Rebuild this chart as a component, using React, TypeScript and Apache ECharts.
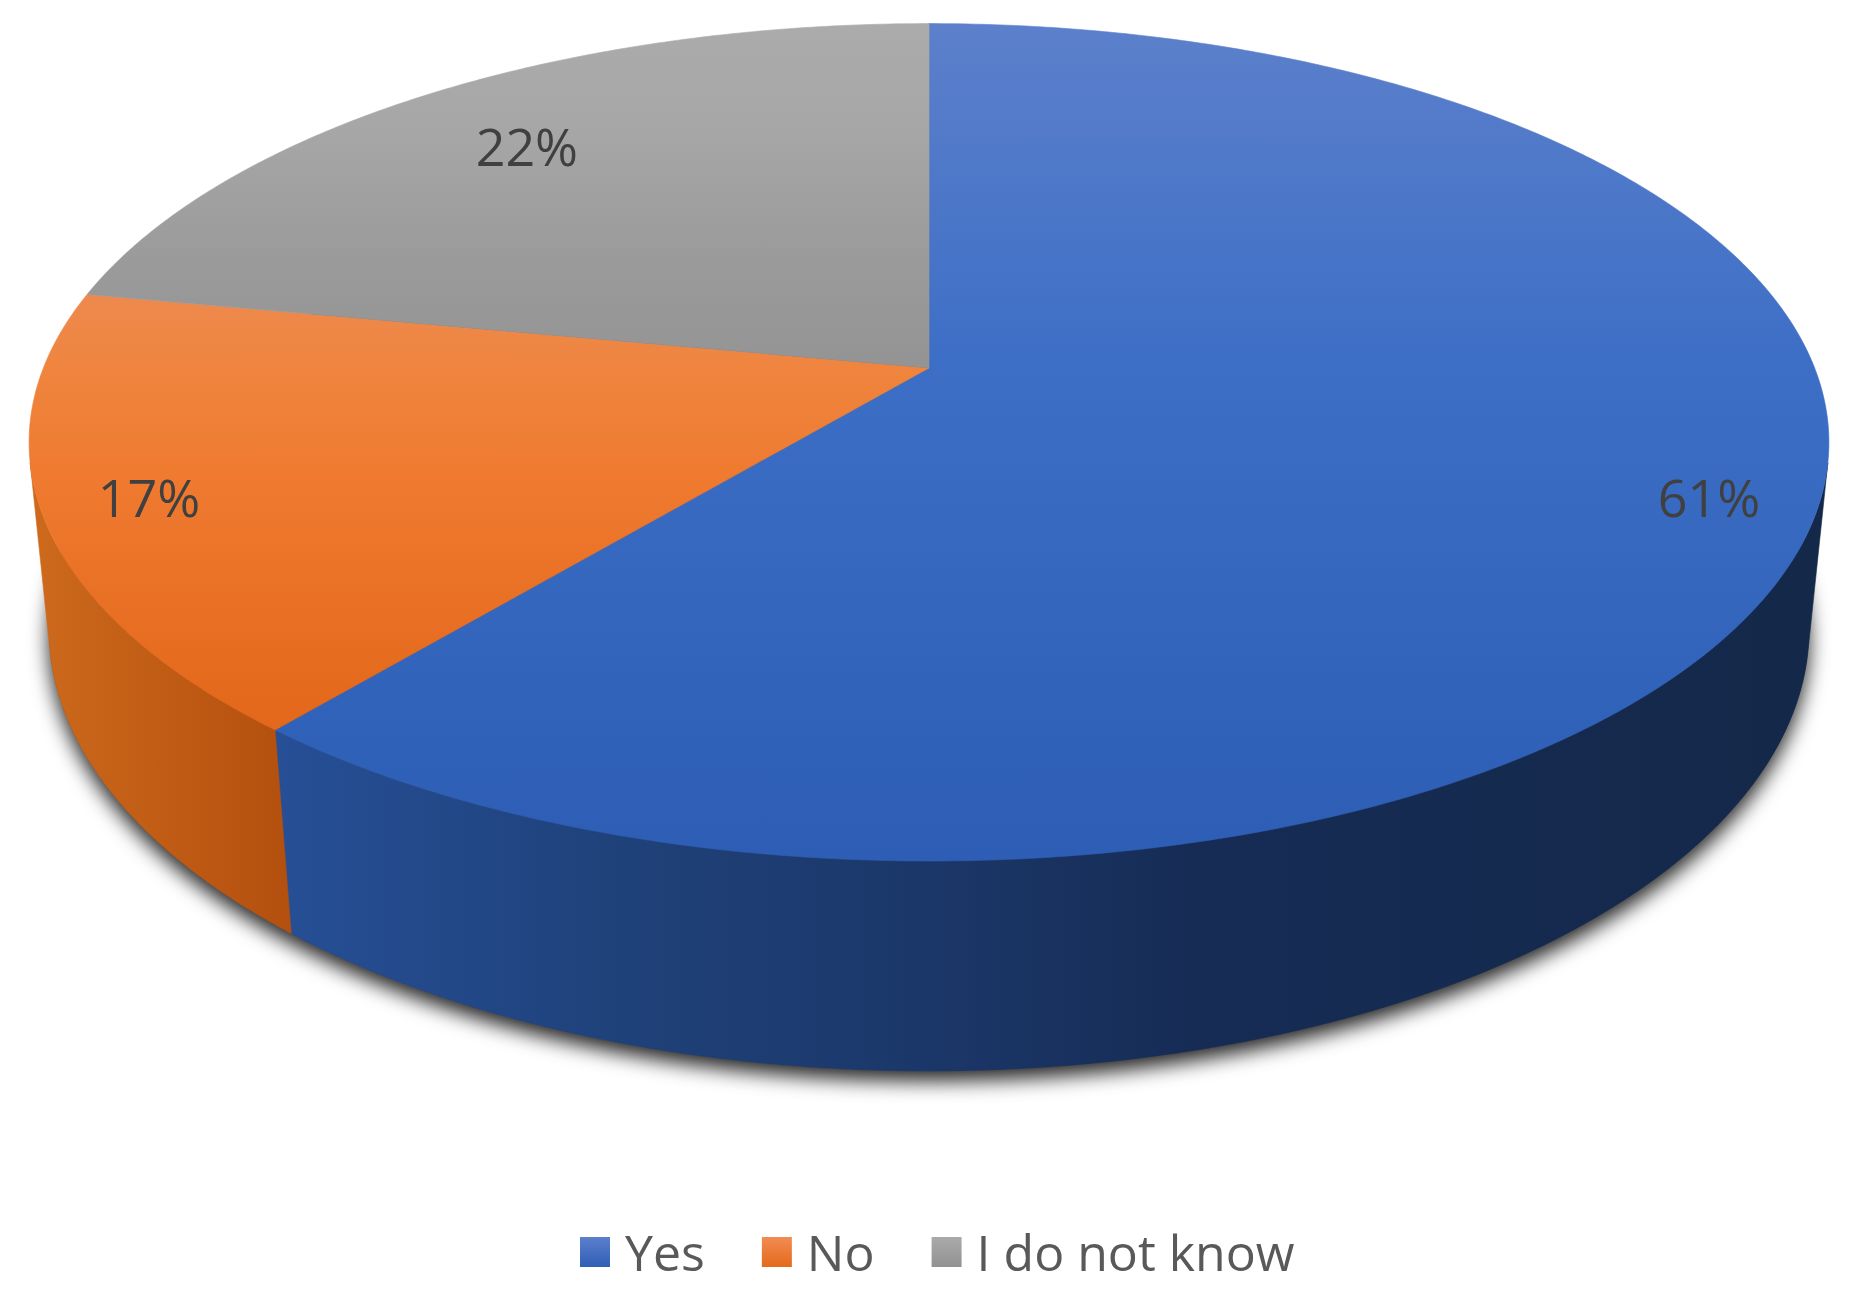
import React, { useEffect, useRef } from 'react';
import * as echarts from 'echarts';

const categories: string[] = ['Yes', 'No', 'I do not know'];
const values: number[] = [61, 17, 22];

// ---- styling (kept apart from the data) ----
const topStops = [
  [
    { offset: 0, color: '#5c80cb' },
    { offset: 0.39, color: '#3e6fc6' },
    { offset: 0.7, color: '#3466be' },
    { offset: 1, color: '#2d5db4' },
  ],
  [
    { offset: 0.3, color: '#ed8b52' },
    { offset: 0.42, color: '#ef843d' },
    { offset: 0.54, color: '#ef7a30' },
    { offset: 0.81, color: '#e4691c' },
    { offset: 1, color: '#e0641a' },
  ],
  [
    { offset: 0, color: '#ababab' },
    { offset: 0.12, color: '#a7a7a7' },
    { offset: 0.29, color: '#9a9a9a' },
    { offset: 0.41, color: '#949494' },
  ],
];
const sideStops = [
  [
    { offset: 0, color: '#264f96' },
    { offset: 0.23, color: '#1f4179' },
    { offset: 0.42, color: '#1b3769' },
    { offset: 0.59, color: '#162c55' },
    { offset: 1, color: '#142849' },
  ],
  [
    { offset: 0, color: '#ce6a1c' },
    { offset: 0.5, color: '#c05c14' },
    { offset: 1, color: '#b4500f' },
  ],
  [
    { offset: 0, color: '#8a8a8a' },
    { offset: 1, color: '#6a6a6a' },
  ],
];
const legendStops = [
  ['#5b80cc', '#2f5eb6'],
  ['#f28c52', '#e4691c'],
  ['#aaaaaa', '#929292'],
];

// ---- 3D perspective view ----
const VIEW = { cx: 929, cy: 368, F: 4437, d: 5.01, s: 0.4579, c: 0.889, H: 0.2388 };
const LABEL_INSET = 108;
const TOP_Y0 = 24;
const TOP_Y1 = 861;

function proj(X: number, Y: number, Z: number): number[] {
  const { cx, cy, F, d, s, c } = VIEW;
  const depth = d - Y * s - Z * c;
  return [cx + (F * X) / depth, cy + (F * (Z * s - Y * c)) / depth];
}
function rim(thetaDeg: number, r: number, Y: number): number[] {
  const t = (thetaDeg * Math.PI) / 180;
  return proj(r * Math.sin(t), Y, -r * Math.cos(t));
}
function arc(a: number, b: number, Y: number): number[][] {
  const n = Math.max(2, Math.ceil(Math.abs(b - a) / 0.5));
  const pts: number[][] = [];
  for (let k = 0; k <= n; k++) pts.push(rim(a + ((b - a) * k) / n, 1, Y));
  return pts;
}

const total = values.reduce((a, b) => a + b, 0);
const starts: number[] = [];
{
  let acc = 0;
  values.forEach((v) => {
    starts.push((acc / total) * 360);
    acc += v;
  });
}
const visA = (Math.acos(-1 / (VIEW.d * VIEW.c)) * 180) / Math.PI;
const visB = 360 - visA;

function makeRender(i: number) {
  return function (_params: any, api: any) {
    const v = api.value(0);
    const start = starts[i];
    const end = start + (v / total) * 360;
    const children: any[] = [];
    const va = Math.max(start, visA);
    const vb = Math.min(end, visB);
    if (va < vb) {
      const pts = arc(va, vb, 0).concat(arc(vb, va, -VIEW.H));
      children.push({
        type: 'polygon',
        z2: 1,
        shape: { points: pts },
        style: {
          fill: new echarts.graphic.LinearGradient(0, 0, 1, 0, sideStops[i]),
          stroke: new echarts.graphic.LinearGradient(0, 0, 1, 0, sideStops[i]),
          lineWidth: 0.6,
        },
      });
    }
    const center = proj(0, 0, 0);
    const topPts = [center].concat(arc(start, end, 0));
    children.push({
      type: 'polygon',
      z2: 10,
      shape: { points: topPts },
      style: {
        fill: new echarts.graphic.LinearGradient(0, TOP_Y0, 0, TOP_Y1, topStops[i], true),
        stroke: new echarts.graphic.LinearGradient(0, TOP_Y0, 0, TOP_Y1, topStops[i], true),
        lineWidth: 0.6,
      },
    });
    const mid = (start + end) / 2;
    const edge = rim(mid, 1, 0);
    const dx = center[0] - edge[0];
    const dy = center[1] - edge[1];
    const len = Math.sqrt(dx * dx + dy * dy);
    const lx = edge[0] + (dx / len) * LABEL_INSET;
    const ly = edge[1] + (dy / len) * LABEL_INSET;
    children.push({
      type: 'text',
      z2: 20,
      x: lx,
      y: ly,
      style: {
        text: Math.round((v / total) * 100) + '%',
        fill: '#404040',
        fontSize: 52,
        fontFamily: 'Open Sans',
        align: 'center',
        verticalAlign: 'middle',
      },
    });
    return { type: 'group', children };
  };
}

export default function App() {
  const ref = useRef<HTMLDivElement>(null);
  useEffect(() => {
    document.body.style.margin = '0';
    if (!ref.current) return;
    const chart = echarts.init(ref.current, undefined, { renderer: 'svg' });
    const series: any[] = [
      {
        type: 'custom',
        coordinateSystem: 'none',
        silent: true,
        z: 1,
        data: [0],
        renderItem: () => ({
          type: 'polygon',
          shape: { points: arc(0, 360, -VIEW.H) },
          style: {
            fill: '#333',
            shadowBlur: 20,
            shadowOffsetY: 10,
            shadowColor: 'rgba(0,0,0,0.85)',
          },
        }),
      },
      ...categories.map((name, i) => ({
        type: 'custom',
        name,
        coordinateSystem: 'none',
        silent: true,
        z: 2,
        data: [values[i]],
        itemStyle: {
          color: new echarts.graphic.LinearGradient(0, 0, 0, 1, [
            { offset: 0, color: legendStops[i][0] },
            { offset: 1, color: legendStops[i][1] },
          ]),
        },
        renderItem: makeRender(i),
      })),
    ];
    chart.setOption({
      animation: false,
      backgroundColor: '#ffffff',
      legend: {
        data: categories,
        left: 575,
        top: 1222,
        icon: 'rect',
        itemWidth: 30,
        itemHeight: 30,
        itemGap: 57,
        selectedMode: false,
        textStyle: {
          color: '#595959',
          fontSize: 50,
          lineHeight: 50,
          fontFamily: 'Open Sans',
          padding: [0, 0, 0, 10],
        },
      },
      series,
    });
    return () => chart.dispose();
  }, []);
  return <div ref={ref} style={{ width: 1850, height: 1293 }} />;
}
